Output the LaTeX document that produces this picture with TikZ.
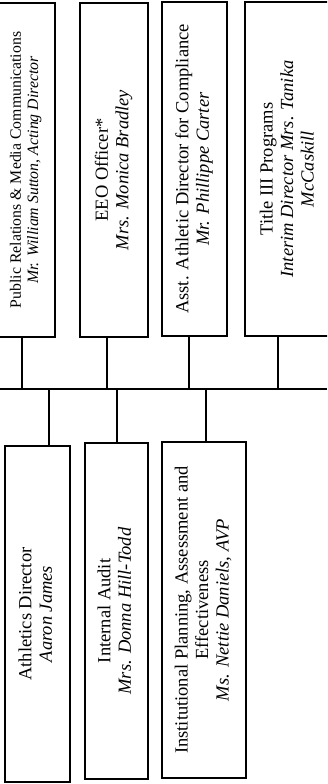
\documentclass[tikz,border=0pt]{standalone}
\usepackage{fontspec}
\setmainfont{Liberation Serif}
\usepackage{graphicx}
\usetikzlibrary{positioning}
\newcommand{\sideways}[1]{\rotatebox{90}{\begin{tabular}{@{}c@{}}#1\end{tabular}}}

\begin{document}
\begin{tikzpicture}[x=1pt, y=-1pt,
      unit/.style={draw=black, line width=2.4pt, fill=white, inner sep=0pt,
                   minimum height=334pt, font=\fontsize{18.5}{20.5}\selectfont},
      link/.style={draw=black, line width=1.8pt}]
    \useasboundingbox (0,0) rectangle (327,784);
    \clip (0,0) rectangle (327,784);
    % upper row
    \node[unit, minimum width=58pt, font=\fontsize{15.8}{17.4}\selectfont] (pr) at (26,170)
      {\sideways{Public Relations \& Media Communications\\\textit{Mr. William Sutton, Acting Director}}};
    \node[unit, minimum width=68pt] (eeo) at (114,170)
      {\sideways{EEO Officer*\\\textit{Mrs. Monica Bradley}}};
    \node[unit, minimum width=65pt] (comp) at (194.5,169)
      {\sideways{Asst. Athletic Director for Compliance\\\textit{Mr. Phillippe Carter}}};
    \node[unit, minimum width=88pt] (title) at (289,169)
      {\sideways{Title III Programs\\\textit{Interim Director Mrs. Tanika}\\\textit{McCaskill}}};
    % lower row
    \node[unit, minimum width=65pt, minimum height=336pt] (ath) at (37.5,614)
      {\sideways{Athletics Director\\\textit{Aaron James}}};
    \node[unit, minimum width=63pt, minimum height=336pt] (audit) at (116.5,611)
      {\sideways{Internal Audit\\\textit{Mrs. Donna Hill-Todd}}};
    \node[unit, minimum width=84pt, minimum height=336pt] (plan) at (204,610)
      {\sideways{Institutional Planning, Assessment and\\Effectiveness\\\textit{Ms. Nettie Daniels, AVP}}};
    % bus line
    \coordinate (busL) at (0,389);
    \coordinate (busR) at (327,389);
    \draw[link] (busL) -- (busR);
    \foreach \x/\n in {22/pr, 107/eeo, 189/comp, 278/title}{
      \coordinate (j\n) at (\x,389);
      \draw[link] (\n.south -| j\n) -- (j\n);
    }
    \foreach \x/\n in {49/ath, 117/audit, 206/plan}{
      \coordinate (j\n) at (\x,389);
      \draw[link] (j\n) -- (\n.north -| j\n);
    }
\end{tikzpicture}
\end{document}
